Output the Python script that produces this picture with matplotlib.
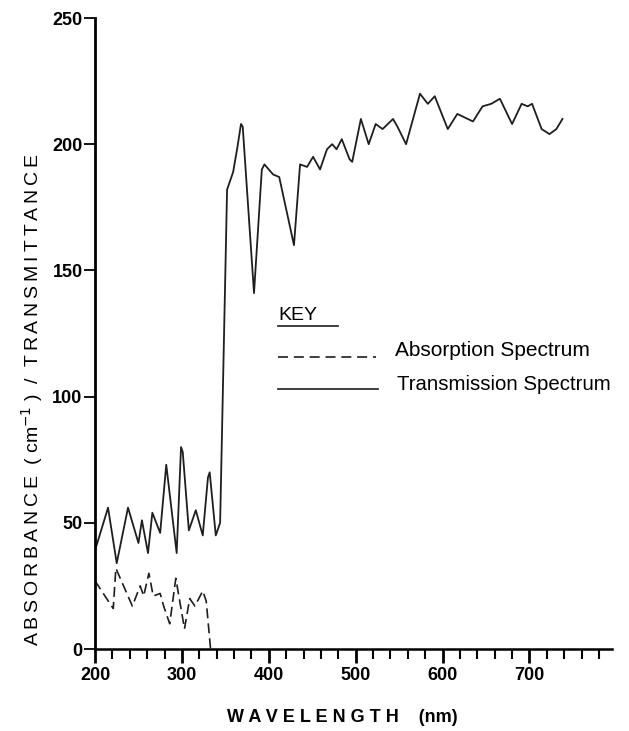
import matplotlib.pyplot as plt
from matplotlib.ticker import MultipleLocator

# transmission spectrum (nm, value)
trans_wl = [200, 215, 225, 238, 250, 254, 261, 266, 275, 282, 294, 299, 301, 308, 316, 324,
            330, 332, 339, 344, 352, 359, 364, 368, 370, 383, 392, 395, 405, 412, 429, 436,
            444, 451, 459, 467, 473, 478, 484, 493, 496, 506, 515, 523, 531, 543, 548, 558,
            574, 583, 591, 606, 617, 635, 646, 656, 666, 680, 691, 698, 703, 714, 723, 731, 738]
trans_val = [39, 56, 34, 56, 42, 51, 38, 54, 46, 73, 38, 80, 78, 47, 55, 45,
             68, 70, 45, 50, 182, 189, 199, 208, 207, 141, 190, 192, 188, 187, 160, 192,
             191, 195, 190, 198, 200, 198, 202, 194, 193, 210, 200, 208, 206, 210, 207, 200,
             220, 216, 219, 206, 212, 209, 215, 216, 218, 208, 216, 215, 216, 206, 204, 206, 210]

# absorption spectrum
abs_wl = [200, 221, 224, 243, 252, 256, 262, 267, 275, 279, 286, 293, 303, 309, 315, 324, 328, 333]
abs_val = [27, 16, 32, 17, 25, 21, 30, 21, 22, 17, 10, 28, 8, 20, 17, 23, 19, 0]

font = 'Liberation Sans'
ink = '#1e1e1e'

fig = plt.figure(figsize=(6.29, 7.31), dpi=100)
ax = fig.add_axes([95 / 629, 82 / 731, 517 / 629, 631 / 731])

ax.plot(trans_wl, trans_val, color=ink, lw=1.3)
ax.plot(abs_wl, abs_val, color=ink, lw=1.2, dashes=(6, 3))

ax.set_xlim(200, 795)
ax.set_ylim(0, 250)
ax.spines['top'].set_visible(False)
ax.spines['right'].set_visible(False)
ax.spines['left'].set_linewidth(2)
ax.spines['bottom'].set_linewidth(1.8)

ax.set_xticks([200, 300, 400, 500, 600, 700])
ax.xaxis.set_minor_locator(MultipleLocator(20))
ax.set_yticks([0, 50, 100, 150, 200, 250])
ax.tick_params(axis='x', which='major', direction='out', length=10, width=2, pad=3)
ax.tick_params(axis='x', which='minor', direction='out', length=7, width=1.5)
ax.tick_params(axis='y', direction='out', length=8, width=1.3, pad=1)
for lab in ax.get_xticklabels() + ax.get_yticklabels():
    lab.set_fontfamily(font)
    lab.set_fontsize(13)
    lab.set_fontweight('bold')

# key
fig.text(278 / 629, 1 - 315 / 731, 'KEY', family=font, fontsize=14, va='center', ha='left')
fig.add_artist(plt.Line2D([278 / 629, 338 / 629], [1 - 326 / 731, 1 - 326 / 731], color=ink, lw=1.2))
fig.add_artist(plt.Line2D([278 / 629, 376 / 629], [1 - 357 / 731, 1 - 357 / 731], color=ink, lw=1.2,
                          dashes=(6, 3.5)))
fig.add_artist(plt.Line2D([278 / 629, 378 / 629], [1 - 389 / 731, 1 - 389 / 731], color=ink, lw=1.2))
fig.text(395 / 629, 1 - 351 / 731, 'Absorption Spectrum', family=font, fontsize=15, va='center', ha='left')
fig.text(397 / 629, 1 - 385 / 731, 'Transmission Spectrum', family=font, fontsize=14.7, va='center', ha='left')

# axis titles
fig.text(342 / 629, 1 - 717 / 731, 'W A V E L E N G T H    (nm)', family=font, fontsize=13,
         fontweight='bold', ha='center', va='center')
sp = '\u2009'
ylab = sp.join('ABSORBANCE') + '  ( cm$^{-1}$ )  /  ' + sp.join('TRANSMITTANCE')
fig.text(32 / 629, 1 - 400 / 731, ylab, family=font, fontsize=14, rotation=90, ha='center', va='center')

fig.savefig('out.png', dpi=100)
